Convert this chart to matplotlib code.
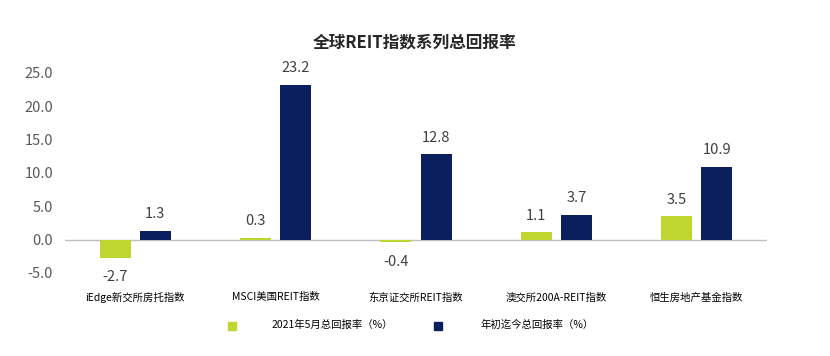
import matplotlib
matplotlib.use("Agg")
import matplotlib.pyplot as plt
import numpy as np

plt.rcParams["font.family"] = ["Noto Sans CJK SC", "DejaVu Sans"]

categories = ["iEdge新交所房托指数", "MSCI美国REIT指数", "东京证交所REIT指数",
              "澳交所200A-REIT指数", "恒生房地产基金指数"]
may_2021 = [-2.7, 0.3, -0.4, 1.1, 3.5]
ytd = [1.3, 23.2, 12.8, 3.7, 10.9]
series_names = ["2021年5月总回报率（%）", "年初迄今总回报率（%）"]
yticks = [-5.0, 0.0, 5.0, 10.0, 15.0, 20.0, 25.0]

green = "#BED62F"
navy = "#0B1F5E"

fig = plt.figure(figsize=(8.3, 3.56), dpi=100)
ax = fig.add_axes([65 / 830, 1 - 273 / 356, 702 / 830, 200 / 356])

x = np.arange(len(categories))
w = 0.22
off = 0.143
ax.axhline(0, color="#BFBFBF", linewidth=1, zorder=1)
b1 = ax.bar(x - off, may_2021, w, color=green, zorder=2)
b2 = ax.bar(x + off, ytd, w, color=navy, zorder=2)

for bars, vals in ((b1, may_2021), (b2, ytd)):
    for b, v in zip(bars, vals):
        cx = b.get_x() + b.get_width() / 2
        if v >= 0:
            ax.annotate(f"{v:.1f}", (cx, v), xytext=(0, 7), textcoords="offset points",
                        ha="center", va="bottom", fontsize=10.5, color="#404040")
        else:
            ax.annotate(f"{v:.1f}", (cx, v), xytext=(0, -9), textcoords="offset points",
                        ha="center", va="top", fontsize=10.5, color="#404040")

ax.set_xlim(-0.5, len(categories) - 0.5)
ax.set_ylim(-5, 25)
ax.set_yticks(yticks)
ax.set_yticklabels([f"{t:.1f}" for t in yticks], fontsize=10.5, color="#595959")
ax.set_xticks(x)
ax.set_xticklabels(categories, fontsize=7.5, color="black")
ax.tick_params(axis="x", length=0, pad=14)
ax.tick_params(axis="y", length=0, pad=8.5)
for s in ax.spines.values():
    s.set_visible(False)

fig.text(0.5, 1 - 42 / 356, "全球REIT指数系列总回报率", ha="center", va="center",
         fontsize=12, fontweight="bold", color="#262626")

# legend drawn by hand to match spacing
fig.patches.append(plt.Rectangle((228 / 830, 1 - 330 / 356), 8 / 830, 8 / 356,
                                 transform=fig.transFigure, color=green))
fig.text(272 / 830, 1 - 325 / 356, series_names[0], ha="left", va="center",
         fontsize=7.5, color="black")
fig.patches.append(plt.Rectangle((434 / 830, 1 - 330 / 356), 8 / 830, 8 / 356,
                                 transform=fig.transFigure, color=navy))
fig.text(480 / 830, 1 - 325 / 356, series_names[1], ha="left", va="center",
         fontsize=7.5, color="black")

fig.savefig("out.png", dpi=100)
